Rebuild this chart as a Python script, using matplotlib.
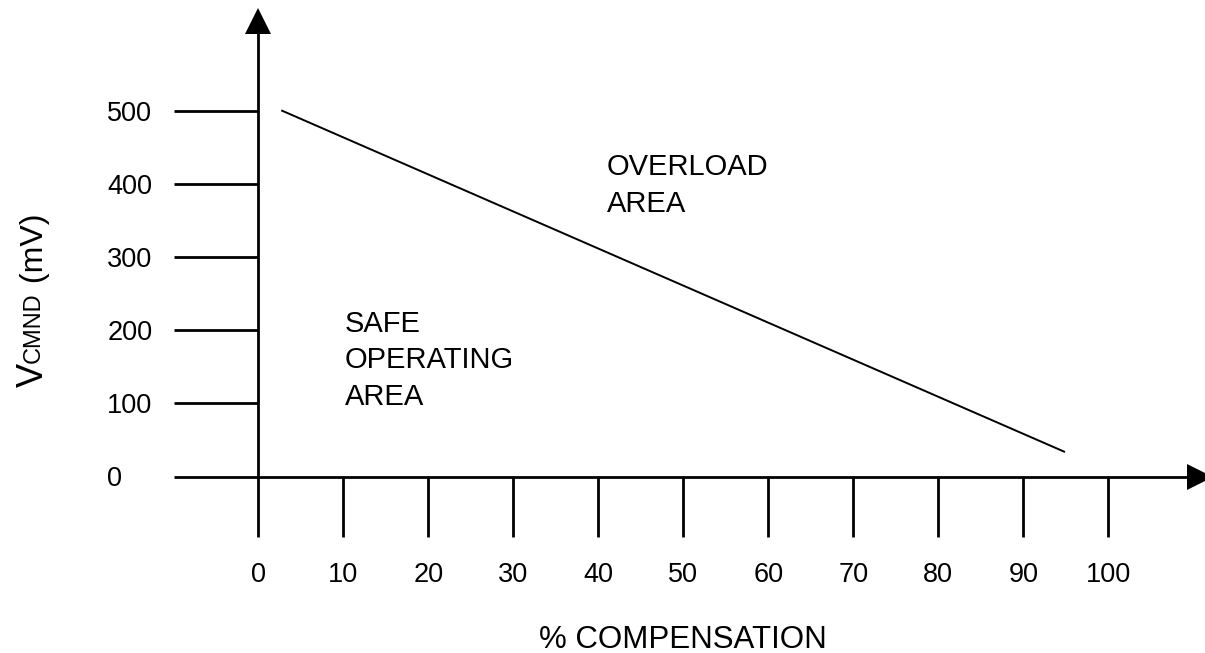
import matplotlib
matplotlib.use('Agg')
from matplotlib import pyplot
from matplotlib.transforms import IdentityTransform

# tick values on both axes
pct_ticks = [0, 10, 20, 30, 40, 50, 60, 70, 80, 90, 100]
mv_ticks = [0, 100, 200, 300, 400, 500]

# overload limit line (end points)
limit_pct = [2.8, 94.8]
limit_mv = [500, 34]

W, H = 1205, 653
X0_PX, X_SCALE = 258.3, 8.5      # pixel of x=0, pixels per % unit
Y0_PX, Y_SCALE = 476.5, 0.7316   # pixel row of y=0, pixels per mV

LW = 2.0
FS_TICK = 19.5
FS_TEXT = 21
FS_LABEL = 22.5


def main():
    pyplot.rcParams['font.family'] = ['Liberation Sans', 'DejaVu Sans']

    fig = pyplot.figure(figsize=(W / 100, H / 100), dpi=100)
    ax = fig.add_axes([0, 0, 1, 1])
    ax.axis('off')
    ax.set_xlim(-X0_PX / X_SCALE, (W - X0_PX) / X_SCALE)
    ax.set_ylim((Y0_PX - H) / Y_SCALE, Y0_PX / Y_SCALE)

    tick_down = -60 / Y_SCALE   # x ticks hang 60px below the axis
    tick_left = -84 / X_SCALE   # y ticks stick 84px left of the axis

    # axes with arrow heads
    x_arrow = (W - 5 - X0_PX) / X_SCALE
    y_arrow = (Y0_PX - 20.5) / Y_SCALE
    ax.plot([tick_left, x_arrow], [0, 0], 'k-', lw=LW, solid_capstyle='butt')
    ax.plot([0, 0], [tick_down, y_arrow], 'k-', lw=LW, solid_capstyle='butt')
    ax.plot(x_arrow, 0, 'k>', ms=19.4, mew=0, clip_on=False)
    ax.plot(0, y_arrow, 'k^', ms=19.4, mew=0, clip_on=False)

    # long ticks
    for x in pct_ticks[1:]:
        ax.plot([x, x], [0, tick_down], 'k-', lw=LW, solid_capstyle='butt')
    for x in pct_ticks:
        ax.annotate(str(x), xy=(x, 0), xytext=(0, -105), textcoords='offset pixels',
                    ha='center', va='baseline', fontsize=FS_TICK)

    for v in mv_ticks[1:]:
        ax.plot([tick_left, 0], [v, v], 'k-', lw=LW, solid_capstyle='butt')
    for v in mv_ticks:
        ax.annotate(str(v), xy=(0, v), xytext=(-151, -10), textcoords='offset pixels',
                    ha='left', va='baseline', fontsize=FS_TICK)

    # limit line
    ax.plot(limit_pct, limit_mv, 'k-', lw=1.4)

    # region labels, anchored at the baseline of their last line
    ax.text(41.0, (Y0_PX - 211.7) / Y_SCALE, 'OVERLOAD\nAREA', ha='left', va='baseline',
            fontsize=FS_TEXT, linespacing=1.39)
    ax.text(10.2, (Y0_PX - 405) / Y_SCALE, 'SAFE\nOPERATING\nAREA', ha='left', va='baseline',
            fontsize=FS_TEXT, linespacing=1.39)

    # x axis title
    ax.text(50, -(648 - Y0_PX) / Y_SCALE, '% COMPENSATION', ha='center', va='baseline',
            fontsize=FS_LABEL)

    # y axis title, V with smaller CMND, built piece by piece
    renderer = fig.canvas.get_renderer()
    start = H - 387
    pieces = [('V', 26, 43), ('CMND', 17, 40), (' (mV)', 23, 43)]
    for txt, size, base_x in pieces:
        t = fig.text(base_x, start, txt, transform=IdentityTransform(),
                     rotation=90, rotation_mode='anchor', ha='left', va='baseline',
                     fontsize=size)
        start = t.get_window_extent(renderer).y1

    fig.savefig('out.png', dpi=100)


if __name__ == '__main__':
    main()
